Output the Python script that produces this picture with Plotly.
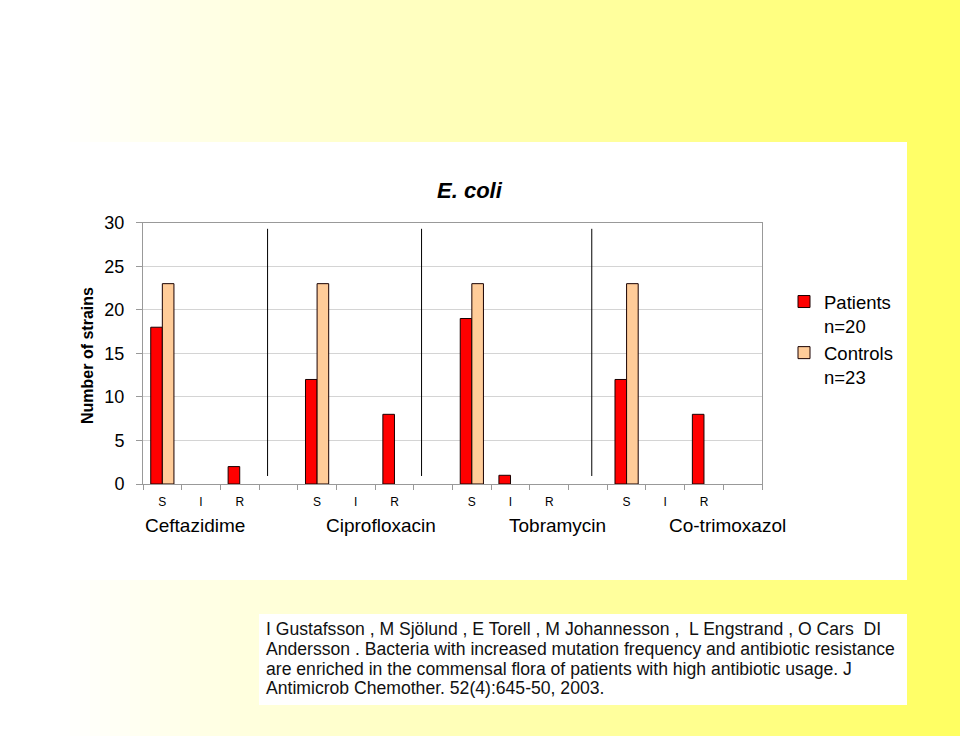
import plotly.graph_objects as go

# ---- data ----
categories = ["S", "I", "R", "", "S", "I", "R", "", "S", "I", "R", "", "S", "I", "R", ""]
drugs = ["Ceftazidime", "Ciprofloxacin", "Tobramycin", "Co-trimoxazol"]
patients = [18, 0, 2, 0, 12, 0, 8, 0, 19, 1, 0, 0, 12, 0, 8, 0]
controls = [23, 0, 0, 0, 23, 0, 0, 0, 23, 0, 0, 0, 23, 0, 0, 0]
series_names = ["Patients<br>n=20", "Controls<br>n=23"]
y_ticks = [0, 5, 10, 15, 20, 25, 30]
citation_lines = [
    "I Gustafsson , M Sjölund , E Torell , M Johannesson ,  L Engstrand , O Cars  DI",
    "Andersson . Bacteria with increased mutation frequency and antibiotic resistance",
    "are enriched in the commensal flora of patients with high antibiotic usage. J",
    "Antimicrob Chemother. 52(4):645-50, 2003.",
]

W, H = 960, 736
def px(x): return x / W
def py(y): return 1 - y / H

xpos = list(range(len(categories)))
def nz(vals):
    return [v if v != 0 else None for v in vals]

fig = go.Figure()
fig.add_trace(go.Bar(x=xpos, y=nz(patients), name=series_names[0],
                     marker=dict(color="#FF0000", line=dict(color="#1a0000", width=1))))
fig.add_trace(go.Bar(x=xpos, y=nz(controls), name=series_names[1],
                     marker=dict(color="#FFCC99", line=dict(color="#1a0000", width=1))))

shapes = []
# gradient background (white -> yellow)
n = 96
for i in range(n):
    x0 = i * W / n
    t = max(0.0, (x0 + W / n / 2 - 60) / (W - 60))
    b = int(round(255 - t * (255 - 96)))
    shapes.append(dict(type="rect", xref="paper", yref="paper",
                       x0=px(x0), x1=min(1.0, px(x0 + W / n + 1)), y0=0, y1=1,
                       fillcolor=f"rgb(255,255,{b})", line=dict(width=0), layer="below"))
# white panel
shapes.append(dict(type="rect", xref="paper", yref="paper", x0=0, x1=px(907),
                   y0=py(580), y1=py(142), fillcolor="white", line=dict(width=0), layer="below"))
# citation box
shapes.append(dict(type="rect", xref="paper", yref="paper", x0=px(259), x1=px(907),
                   y0=py(705), y1=py(614), fillcolor="white", line=dict(width=0), layer="below"))
# group separators
for sx in [2.72, 6.70, 11.1]:
    shapes.append(dict(type="line", xref="x", yref="y", x0=sx, x1=sx, y0=0.92, y1=29.3,
                       line=dict(color="black", width=1)))

annotations = []
for d, cx in zip(drugs, [195, 381, 557, 727]):
    annotations.append(dict(text=d, x=px(cx), xref="paper", y=py(525), yref="paper",
                            showarrow=False, font=dict(size=19, color="black"),
                            xanchor="center", yanchor="middle"))
annotations.append(dict(text="<b><i>E. coli</i></b>", x=px(470), y=py(190), xref="paper", yref="paper",
                        showarrow=False, font=dict(size=22, color="black"),
                        xanchor="center", yanchor="middle"))
annotations.append(dict(text="<b>Number of strains</b>", x=px(87), y=py(356), xref="paper", yref="paper",
                        showarrow=False, textangle=-90, font=dict(size=16, color="black"),
                        xanchor="center", yanchor="middle"))
for line, ly in zip(citation_lines, [629, 649, 668.5, 688]):
    annotations.append(dict(text=line, x=px(264), y=py(ly), xref="paper", yref="paper",
                            showarrow=False, align="left", xanchor="left", yanchor="middle",
                            font=dict(size=17.6, color="#111111")))

fig.update_layout(
    width=W, height=H, autosize=False,
    margin=dict(l=0, r=0, t=0, b=0, pad=0, autoexpand=False),
    paper_bgcolor="white", plot_bgcolor="rgba(0,0,0,0)",
    font=dict(family="Liberation Sans, Arial, sans-serif", color="black"),
    barmode="group", bargap=0.4, bargroupgap=0,
    showlegend=True,
    legend=dict(x=px(784), y=py(283), xanchor="left", yanchor="top",
                font=dict(size=18.5, color="black"), bgcolor="rgba(0,0,0,0)",
                valign="top", tracegroupgap=0, traceorder="normal"),
    shapes=shapes, annotations=annotations,
    xaxis=dict(domain=[px(143), px(762)], range=[-0.5, 15.5], automargin=False,
               tickmode="array", tickvals=xpos, ticktext=categories,
               ticks="", tickfont=dict(size=12), ticklabelstandoff=7,
               showline=True, linecolor="#999999", linewidth=1, mirror=True,
               showgrid=False, zeroline=False, fixedrange=True,
               minor=dict(tickmode="linear", tick0=-0.5, dtick=1, ticks="outside",
                          ticklen=5, tickcolor="#999999", showgrid=False)),
    yaxis=dict(domain=[py(484), py(222.7)], range=[0, 30], automargin=False,
               tickmode="array", tickvals=y_ticks,
               ticks="outside", ticklen=6, tickcolor="#999999",
               tickfont=dict(size=18), ticklabelstandoff=8,
               showline=True, linecolor="#999999", linewidth=1, mirror=True,
               showgrid=True, gridcolor="#d4d4d4", zeroline=False, fixedrange=True),
)

fig.write_html("out.html")
